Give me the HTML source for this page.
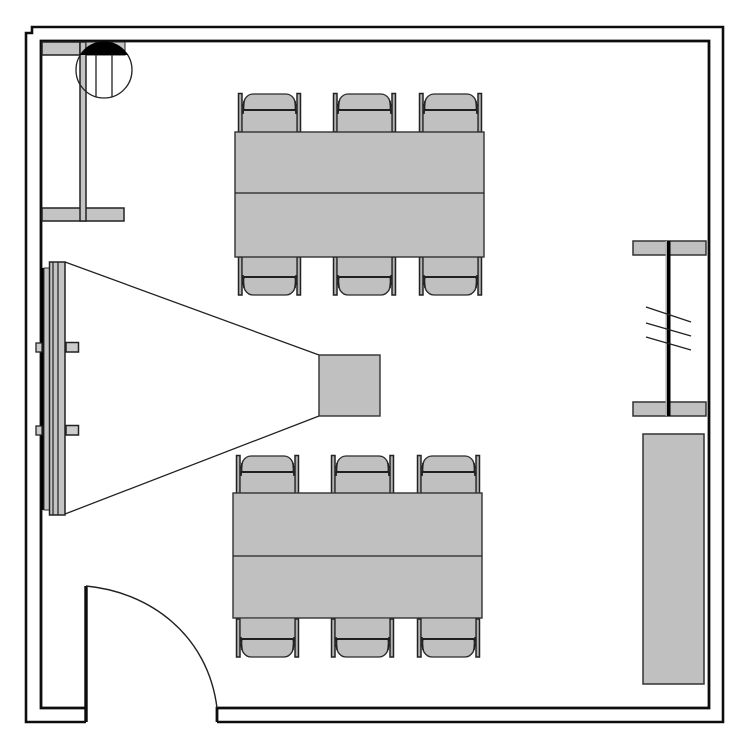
<!DOCTYPE html>
<html>
<head>
<meta charset="utf-8">
<style>
html,body{margin:0;padding:0;background:#fff}
svg{display:block}
</style>
</head>
<body>
<svg width="750" height="750" viewBox="0 0 750 750" xmlns="http://www.w3.org/2000/svg">
<defs>
<filter id="soft" filterUnits="userSpaceOnUse" x="0" y="0" width="750" height="750"><feGaussianBlur stdDeviation="0.35"/></filter>
<g id="chairTop">
  <path d="M6 39V8Q9 1 16 1H49Q56 1 59 8V39Z" fill="#c0c0c0" stroke="none"/>
  <path d="M8 6Q11 1 16 1H49Q54 1 57 6L59 12L58 17H7L6 12Z" fill="#c0c0c0" stroke="#2a2a2a" stroke-width="1.3"/>
  <path d="M7 17H58" stroke="#111" stroke-width="1.8" fill="none"/>
  <path d="M7 8 L6 21 M58 8 L59 21" stroke="#222" stroke-width="1.6" fill="none"/>
  <rect x="1.500" y="0.500" width="3.500" height="38.500" fill="#b4b4b4" stroke="#222" stroke-width="1.5"/>
  <rect x="60" y="0.500" width="3.500" height="38.500" fill="#b4b4b4" stroke="#222" stroke-width="1.5"/>
</g>
<g id="chairBottom">
  <path d="M6 0V31Q9 38 16 38H49Q56 38 59 31V0Z" fill="#c0c0c0" stroke="none"/>
  <path d="M8 33Q11 38 16 38H49Q54 38 57 33L59 27L58 20H7L6 27Z" fill="#c0c0c0" stroke="#2a2a2a" stroke-width="1.3"/>
  <path d="M7 20H58" stroke="#111" stroke-width="1.8" fill="none"/>
  <path d="M7 31 L6 18 M58 31 L59 18" stroke="#222" stroke-width="1.6" fill="none"/>
  <rect x="1.500" y="0" width="3.500" height="38" fill="#b4b4b4" stroke="#222" stroke-width="1.5"/>
  <rect x="60" y="0" width="3.500" height="38" fill="#b4b4b4" stroke="#222" stroke-width="1.5"/>
</g>
</defs>

<rect width="750" height="750" fill="#fff"/>
<g filter="url(#soft)">

<!-- outer wall -->
<path d="M86 722H26V33H32V27H723V722H217" fill="none" stroke="#111" stroke-width="2.6"/>
<!-- inner wall -->
<path d="M86 708H41V41H709V708H217V722" fill="none" stroke="#111" stroke-width="2.8"/>
<!-- door -->
<path d="M86 586V722" fill="none" stroke="#111" stroke-width="3.400"/>
<path d="M86 586C150 592 208 635 217 708" fill="none" stroke="#222" stroke-width="1.4"/>

<!-- top-left fixture -->
<rect x="42" y="42" width="38" height="13" fill="#c4c4c4" stroke="#222" stroke-width="1.5"/>
<rect x="42" y="208" width="82" height="13" fill="#c4c4c4" stroke="#222" stroke-width="1.5"/>
<rect x="80" y="42" width="6" height="179" fill="#c4c4c4" stroke="#222" stroke-width="1.5"/>
<rect x="86" y="42" width="39" height="13" fill="#c4c4c4" stroke="#222" stroke-width="1"/>
<circle cx="104" cy="70" r="28" fill="none" stroke="#222" stroke-width="1.300"/>
<path d="M80 55A28 28 0 0 1 128 55Z" fill="#000"/>
<path d="M96 55V97M112 55V97" stroke="#222" stroke-width="1.300"/>

<!-- upper table chairs -->
<use href="#chairTop" x="237" y="93"/>
<use href="#chairTop" x="332" y="93"/>
<use href="#chairTop" x="418" y="93"/>
<use href="#chairBottom" x="237" y="257"/>
<use href="#chairBottom" x="332" y="257"/>
<use href="#chairBottom" x="418" y="257"/>
<!-- upper table -->
<rect x="235" y="132" width="249" height="125" fill="#c0c0c0" stroke="#333" stroke-width="1.4"/>
<path d="M235 193H484" stroke="#222" stroke-width="1.3"/>

<!-- lower table chairs -->
<use href="#chairTop" x="235" y="455"/>
<use href="#chairTop" x="330" y="455"/>
<use href="#chairTop" x="416" y="455"/>
<use href="#chairBottom" x="235" y="619"/>
<use href="#chairBottom" x="330" y="619"/>
<use href="#chairBottom" x="416" y="619"/>
<!-- lower table -->
<rect x="233" y="493" width="249" height="125" fill="#c0c0c0" stroke="#333" stroke-width="1.4"/>
<path d="M233 556H482" stroke="#222" stroke-width="1.3"/>

<!-- projection screen -->
<rect x="41" y="268" width="3" height="242" fill="#000"/>
<rect x="44" y="268" width="5.500" height="242" fill="#c4c4c4" stroke="#333" stroke-width="1"/>
<rect x="49.500" y="262" width="15.500" height="253" fill="#c4c4c4" stroke="#222" stroke-width="1.5"/>
<path d="M53 262V515M58 262V515" stroke="#222" stroke-width="1.200" fill="none"/>
<rect x="36" y="343" width="6" height="9" fill="#ccc" stroke="#222" stroke-width="1.3"/>
<rect x="66" y="342.500" width="12.500" height="9.500" fill="#ccc" stroke="#222" stroke-width="1.5"/>
<rect x="36" y="426" width="6" height="9" fill="#ccc" stroke="#222" stroke-width="1.3"/>
<rect x="66" y="425.500" width="12.500" height="9.500" fill="#ccc" stroke="#222" stroke-width="1.5"/>

<!-- projection lines and projector -->
<path d="M65 262L319 355M65 514L319 416" stroke="#222" stroke-width="1.3" fill="none"/>
<rect x="319" y="355" width="61" height="61" fill="#c0c0c0" stroke="#333" stroke-width="1.4"/>

<!-- right fixture -->
<rect x="633" y="241" width="73" height="14" fill="#c0c0c0" stroke="#333" stroke-width="1.5"/>
<rect x="633" y="402" width="73" height="14" fill="#c0c0c0" stroke="#333" stroke-width="1.5"/>
<rect x="665.500" y="241" width="2" height="175" fill="#aaa"/>
<rect x="667" y="241" width="3.500" height="175" fill="#000"/>
<path d="M646 307L691 322M646 323L691 336M646 337L691 350" stroke="#222" stroke-width="1.4" fill="none"/>

<!-- right cabinet -->
<rect x="643" y="434" width="61" height="250" fill="#c0c0c0" stroke="#333" stroke-width="1.5"/>
</g>
</svg>
</body>
</html>
